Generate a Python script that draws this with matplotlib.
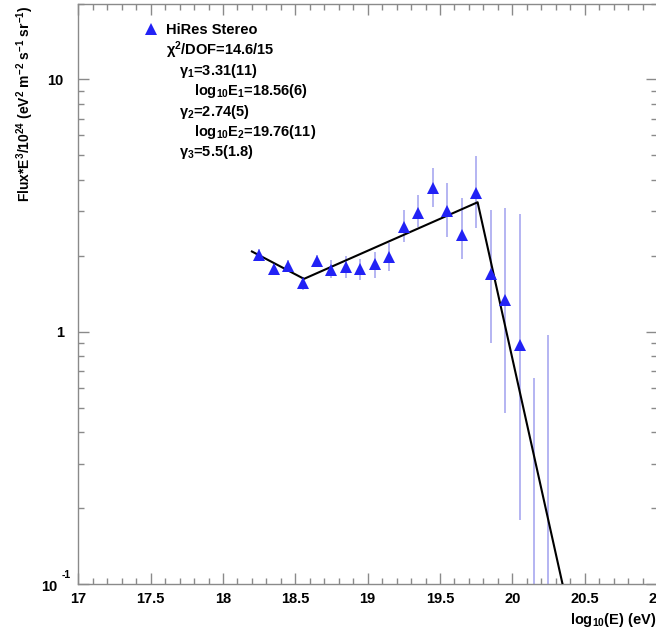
import numpy as np
import matplotlib
matplotlib.use('Agg')
import matplotlib.pyplot as plt
from matplotlib.ticker import FixedLocator, NullFormatter, FixedFormatter, LogLocator

plt.rcParams['font.family'] = 'Liberation Sans'
plt.rcParams['font.weight'] = 'bold'
plt.rcParams['mathtext.fontset'] = 'custom'
plt.rcParams['mathtext.rm'] = 'Liberation Sans:bold'
plt.rcParams['mathtext.it'] = 'Liberation Sans:bold'
plt.rcParams['mathtext.bf'] = 'Liberation Sans:bold'
plt.rcParams['mathtext.default'] = 'rm'

# HiRes stereo spectrum, E^3 * flux / 1e24
energy = [18.25, 18.35, 18.45, 18.55, 18.65, 18.75, 18.85, 18.95, 19.05, 19.15,
          19.25, 19.35, 19.45, 19.55, 19.65, 19.75, 19.85, 19.95, 20.05]
flux = [2.01, 1.78, 1.83, 1.56, 1.90, 1.75, 1.80, 1.77, 1.85, 1.97,
        2.59, 2.95, 3.70, 3.00, 2.41, 3.54, 1.69, 1.33, 0.885]
flux_hi = [2.12, 1.87, 1.93, 1.65, 2.01, 1.92, 1.99, 1.95, 2.07, 2.24,
           3.03, 3.47, 4.44, 3.87, 3.38, 4.95, 3.03, 3.08, 2.92]
flux_lo = [1.90, 1.70, 1.74, 1.47, 1.80, 1.64, 1.64, 1.60, 1.63, 1.74,
           2.26, 2.60, 3.11, 2.37, 1.95, 2.57, 0.90, 0.475, 0.179]

# empty bins, only the upper error is shown
empty_energy = [20.15, 20.25]
empty_hi = [0.655, 0.968]

# broken power law fit
fit_x = [18.20, 18.56, 19.76, 20.40]
fit_y = [2.08, 1.62, 3.26, 0.073]

fit_text = [r'$\chi^2$/DOF=14.6/15',
            r'$\gamma_1$=3.31(11)',
            r'log$_{10}$E$_1$=18.56(6)',
            r'$\gamma_2$=2.74(5)',
            r'log$_{10}$E$_2$=19.76(11)',
            r'$\gamma_3$=5.5(1.8)']
fit_text_x = [166, 179, 194, 179, 194, 179]  # pixel offsets, indentation like the original

W, H = 656, 632
fig = plt.figure(figsize=(W / 100, H / 100), dpi=100)
ax = fig.add_axes([78.3 / W, (H - 584) / H, (657 - 78.3) / W, (584 - 3.5) / H])

bar_col = '#a8a8f0'
mk_col = '#2222f5'

flux = np.array(flux)
yerr = [flux - np.array(flux_lo), np.array(flux_hi) - flux]
ax.errorbar(energy, flux, yerr=yerr, fmt='none', ecolor=bar_col, elinewidth=1.2, capsize=0, zorder=2)
ax.vlines(empty_energy, 1e-3, empty_hi, color=bar_col, lw=1.2, zorder=2)
ax.plot(fit_x, fit_y, color='black', lw=1.5, zorder=3)
pts, = ax.plot(energy, flux, '^', color=mk_col, ms=8, mew=0, zorder=4, label='HiRes Stereo')

ax.set_yscale('log')
ax.set_xlim(17, 21)
ax.set_ylim(0.1, 20)

ax.xaxis.set_major_locator(FixedLocator(np.arange(17, 21.01, 0.5)))
ax.xaxis.set_minor_locator(FixedLocator(np.arange(17, 21.01, 0.1)))
ax.set_xticklabels(['17', '17.5', '18', '18.5', '19', '19.5', '20', '20.5', '21'])
ax.yaxis.set_major_locator(FixedLocator([0.1, 1, 10]))
ax.yaxis.set_major_formatter(FixedFormatter(['', '1', '10']))
ax.yaxis.set_minor_locator(LogLocator(base=10, subs=np.arange(2, 10), numticks=20))
ax.yaxis.set_minor_formatter(NullFormatter())

frame_col = '#8a8a8a'
for s in ax.spines.values():
    s.set_color(frame_col)
    s.set_linewidth(1.0)
ax.tick_params(which='both', direction='in', top=True, right=True, color=frame_col, width=1.0,
               labelsize=10.5)
ax.tick_params(which='major', length=8)
ax.tick_params(which='minor', length=4)
ax.tick_params(axis='x', pad=5.5)
ax.tick_params(axis='y', pad=10.5)

# ROOT style "10 ^-1" label at the bottom of the y axis
ax.text(-0.036, 0.097, '10', transform=ax.get_yaxis_transform(), ha='right', va='center',
        fontsize=10.5)
ax.text(-0.028, 0.104, '-1', transform=ax.get_yaxis_transform(), ha='left', va='bottom',
        fontsize=7.5)

fig.text(22 / W + 0.005, 1 - 5 / H, r'Flux*E$^3$/10$^{24}$ (eV$^2$ m$^{-2}$ s$^{-1}$ sr$^{-1}$)',
         rotation=90, ha='center', va='top', fontsize=10)
fig.text(656 / W, 1 - 620 / H, r'log$_{10}$(E) (eV)', ha='right', va='center', fontsize=10.5)

ax.legend(handles=[pts], loc='center left', bbox_to_anchor=((145.2 - 78.3) / 578.7, (584 - 30) / 580.5),
          frameon=False, borderpad=0, borderaxespad=0, handlelength=0.8, handletextpad=0.6,
          fontsize=10.5)

for i, t in enumerate(fit_text):
    base = 55 + 20.2 * i
    ax.text((fit_text_x[i] - 78.3) / 578.7, (584 - base) / 580.5, t, transform=ax.transAxes,
            ha='left', va='baseline', fontsize=10.5)

fig.savefig('out.png', dpi=100)
